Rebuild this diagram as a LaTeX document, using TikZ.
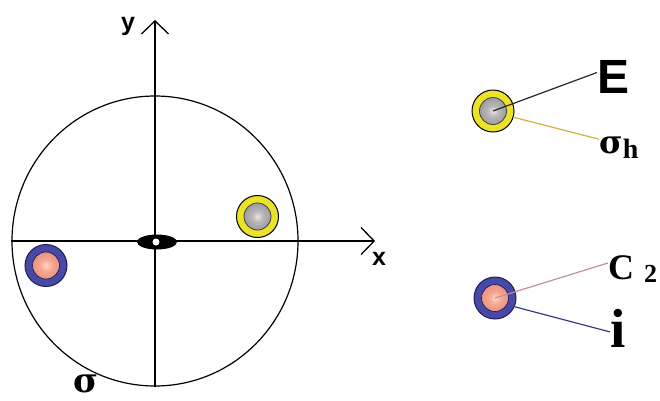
\documentclass[tikz,border=0pt]{standalone}
\usepackage{fontspec}
\setmainfont{Liberation Serif}
\newfontfamily\arialf{Liberation Sans}
\newfontfamily\grkf{DejaVu Serif}
\usetikzlibrary{arrows.meta,shapes.geometric}
\definecolor{ringyellow}{RGB}{236,226,40}
\definecolor{ringblue}{RGB}{72,72,165}
\definecolor{ringblueedge}{RGB}{30,30,90}
\definecolor{gin}{RGB}{232,232,232}
\definecolor{gmid}{RGB}{185,185,185}
\definecolor{gout}{RGB}{110,110,110}
\definecolor{pin}{RGB}{255,215,195}
\definecolor{pmid}{RGB}{245,165,145}
\definecolor{pout}{RGB}{215,110,95}
\definecolor{lineyellow}{RGB}{212,176,64}
\definecolor{linepink}{RGB}{192,144,150}
\definecolor{lineblue}{RGB}{58,58,140}
\pgfdeclareradialshading{greyball}{\pgfpoint{0bp}{0bp}}{color(0bp)=(gin); color(10bp)=(gmid); color(50bp)=(gout)}
\pgfdeclareradialshading{pinkball}{\pgfpoint{0bp}{0bp}}{color(0bp)=(pin); color(12bp)=(pmid); color(50bp)=(pout)}
\tikzset{
  axis/.style={line width=1.3pt, black},
  tipstyle/.style={-{Straight Barb[length=13pt,width=27pt]}},
  ringY/.style={circle, draw=black, line width=1pt, fill=ringyellow, minimum size=42pt, inner sep=0pt},
  ringB/.style={circle, draw=ringblueedge, line width=1pt, fill=ringblue, minimum size=42pt, inner sep=0pt},
  ballG/.style={circle, draw=black!75, line width=0.8pt, shading=greyball, minimum size=27pt, inner sep=0pt},
  ballP/.style={circle, draw=ringblueedge, line width=0.7pt, shading=pinkball, minimum size=27pt, inner sep=0pt},
  lbl/.style={anchor=base west, inner sep=0pt},
  conn/.style={line width=1.2pt}
}
\begin{document}
\begin{tikzpicture}[x=1pt,y=-1pt]
\useasboundingbox (0,0) rectangle (660,400);
% projection circle
\node[draw, ellipse, line width=1.2pt, minimum width=286pt, minimum height=290pt, inner sep=0pt] (plane) at (155,241) {};
\coordinate (xtip) at (375,241);
\coordinate (ytip) at (155,20);
\draw[axis, tipstyle] (plane.west) -- (xtip);
\draw[axis, tipstyle] (plane.south) -- (ytip);
% C2 axis symbol
\node[ellipse, fill=black, minimum width=40pt, minimum height=15pt, inner sep=0pt] (axsym) at (157,242) {};
\node[circle, fill=white, minimum size=7pt, inner sep=0pt] (axdot) at (156,242) {};
% atoms on the plane
\node[ringY] (gA) at (257.5,216.5) {};
\node[ballG] (gAin) at (gA) {};
\node[ringB] (pA) at (46,265.5) {};
\node[ballP] (pAin) at (pA) {};
% axis labels
\node[lbl, font=\arialf\bfseries\fontsize{25}{25}\selectfont] (ylbl) at (121,30) {y};
\node[lbl, font=\arialf\bfseries\fontsize{25}{25}\selectfont] (xlbl) at (372,265) {x};
\node[lbl, font=\grkf\bfseries\fontsize{34}{34}\selectfont] (sig) at (73,392) {σ};
% legend atoms
\node[ringY] (gR) at (493,111) {};
\node[ballG] (gRin) at (gR) {};
\node[ringB] (pR) at (495,298) {};
\node[ballP] (pRin) at (pR) {};
% legend labels
\node[lbl, font=\arialf\bfseries\fontsize{48}{48}\selectfont] (E) at (597,93) {E};
\node[lbl, font=\bfseries\fontsize{32}{32}\selectfont] (sh) at (599,153) {{\grkf σ}\raisebox{-5pt}{\fontsize{28}{28}\selectfont h}};
\node[lbl, font=\bfseries\fontsize{36}{36}\selectfont] (C2) at (608,279) {C\hspace{10pt}\raisebox{-3pt}{\fontsize{26}{26}\selectfont 2}};
\node[lbl, font=\bfseries\fontsize{55}{55}\selectfont] (ilbl) at (610,347) {i};
% connectors
\draw[conn, black!85] (gR.center) -- ([yshift=4pt]E.west);
\draw[conn, lineyellow] (gR.-17) -- ([yshift=-3pt]sh.north west);
\draw[conn, linepink] (pR.center) -- ([yshift=-8pt]C2.north west);
\draw[conn, lineblue] (pR.-24) -- ([yshift=-4pt]ilbl.west);
\end{tikzpicture}
\end{document}
